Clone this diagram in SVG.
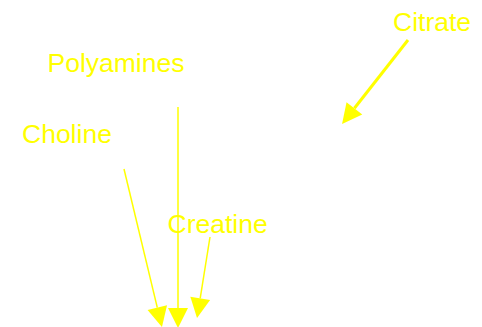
<svg xmlns="http://www.w3.org/2000/svg" width="482" height="327" viewBox="0 0 482 327">
<style>
.lbl{font-family:"Liberation Sans",Arial,sans-serif;font-size:26.5px;fill:#ffff00}
.edge{stroke:#ffff00;fill:none}
</style>
<defs>
<marker id="ah" markerUnits="userSpaceOnUse" markerWidth="20" markerHeight="20" refX="0" refY="10" orient="auto" overflow="visible">
<path d="M0,0 L20,10 L0,20 z" fill="#ffff00"/>
</marker>
</defs>
<rect width="482" height="327" fill="#ffffff"/>
<g id="connectors">
<line class="edge" x1="408" y1="40" x2="354.4" y2="108.3" stroke-width="3" marker-end="url(#ah)"/>
<line class="edge" x1="178" y1="107" x2="178" y2="308" stroke-width="1.5" marker-end="url(#ah)"/>
<line class="edge" x1="124" y1="169" x2="157.3" y2="307.6" stroke-width="1.5" marker-end="url(#ah)"/>
<line class="edge" x1="210" y1="237" x2="200.2" y2="298.3" stroke-width="1.5" marker-end="url(#ah)"/>
</g>
<g id="citrate"><text class="lbl" x="393" y="31">Citrate</text></g>
<g id="polyamines"><text class="lbl" x="47.5" y="72">Polyamines</text></g>
<g id="choline"><text class="lbl" x="22" y="143">Choline</text></g>
<g id="creatine"><text class="lbl" x="167.5" y="233">Creatine</text></g>
</svg>
